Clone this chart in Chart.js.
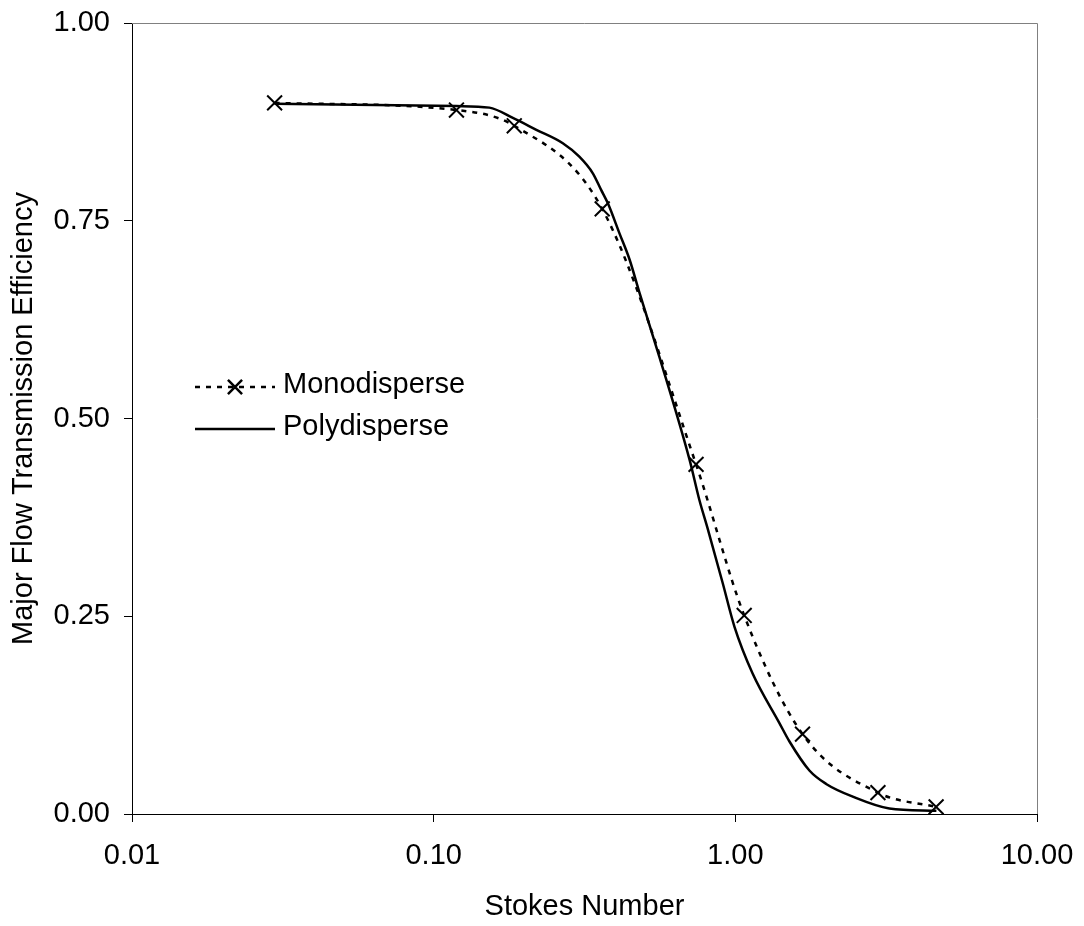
<!DOCTYPE html>
<html>
<head>
<meta charset="utf-8">
<title>Major Flow Transmission Efficiency</title>
<script src="https://cdn.jsdelivr.net/npm/chart.js@4.4.1/dist/chart.umd.min.js"></script>
<style>
    html, body { margin: 0; padding: 0; background: #fff; }
    #wrap { width: 1084px; height: 926px; }
</style>
</head>
<body>
<div id="wrap"><canvas id="transmissionChart" width="1084" height="926"></canvas></div>
<script>
// Monodisperse particles (points with x markers)
const monoStokes = [0.0297, 0.119, 0.185, 0.362, 0.741, 1.07, 1.67, 2.97, 4.63];
const monoEfficiency = [0.899, 0.890, 0.870, 0.765, 0.442, 0.251, 0.101, 0.027, 0.009];

// Polydisperse curve
const polyStokes = [0.0297, 0.119, 0.153, 0.183, 0.219, 0.268, 0.304, 0.337, 0.359, 0.378,
    0.413, 0.446, 0.481, 0.560, 0.705, 0.760, 0.808, 0.908, 0.993, 1.14,
    1.40, 1.51, 1.76, 2.00, 2.45, 3.24, 4.64];
const polyEfficiency = [0.898, 0.895, 0.893, 0.880, 0.865, 0.848, 0.831, 0.810, 0.789, 0.772,
    0.734, 0.701, 0.659, 0.578, 0.448, 0.397, 0.362, 0.292, 0.237, 0.178,
    0.115, 0.092, 0.055, 0.038, 0.022, 0.007, 0.004];

// Axis ticks
const stokesTicks = [0.01, 0.1, 1, 10];
const efficiencyTicks = [0, 0.25, 0.5, 0.75, 1];

const seriesNames = ['Monodisperse', 'Polydisperse'];

const FONT_FAMILY = '"Liberation Sans", Arial, Helvetica, sans-serif';
const baseFont = { family: FONT_FAMILY, size: 29 };
const monoDash = [5, 6];

function toPoints(xs, ys) {
    return xs.map((x, i) => ({ x: x, y: ys[i] }));
}

// Plot frame (top/right) and the in-plot legend
const frameAndLegend = {
    id: 'frameAndLegend',
    afterDraw(chart) {
        const { ctx, chartArea } = chart;
        ctx.save();

        // gray border on the top and right of the plot area
        ctx.strokeStyle = '#808080';
        ctx.lineWidth = 1;
        ctx.beginPath();
        ctx.moveTo(chartArea.left, chartArea.top + 0.5);
        ctx.lineTo(chartArea.right + 0.5, chartArea.top + 0.5);
        ctx.lineTo(chartArea.right + 0.5, chartArea.bottom);
        ctx.stroke();

        // legend
        const lineX0 = 195, lineX1 = 275, textX = 283;
        const rows = [387, 429];

        ctx.strokeStyle = '#000';
        ctx.lineWidth = 2.5;

        ctx.setLineDash(monoDash);
        ctx.beginPath();
        ctx.moveTo(lineX0, rows[0]);
        ctx.lineTo(lineX1, rows[0]);
        ctx.stroke();
        ctx.setLineDash([]);

        Chart.helpers.drawPoint(ctx, {
            pointStyle: 'crossRot', radius: 10, borderWidth: 2, rotation: 0
        }, (lineX0 + lineX1) / 2, rows[0]);

        ctx.beginPath();
        ctx.moveTo(lineX0, rows[1]);
        ctx.lineTo(lineX1, rows[1]);
        ctx.stroke();

        ctx.fillStyle = '#000';
        ctx.font = `29px ${FONT_FAMILY}`;
        ctx.textAlign = 'left';
        ctx.textBaseline = 'middle';
        seriesNames.forEach((name, i) => {
            ctx.fillText(name, textX, rows[i] - 2);
        });

        ctx.restore();
    }
};

const ctx = document.getElementById('transmissionChart').getContext('2d');
const transmissionChart = new Chart(ctx, {
    type: 'line',
    data: {
        datasets: [{
            label: seriesNames[0],
            data: toPoints(monoStokes, monoEfficiency),
            borderColor: '#000',
            borderWidth: 2.5,
            borderDash: monoDash,
            cubicInterpolationMode: 'monotone',
            pointStyle: 'crossRot',
            pointRadius: 10.5,
            pointBorderWidth: 2,
            pointBorderColor: '#000',
            pointBackgroundColor: '#000',
            fill: false
        }, {
            label: seriesNames[1],
            data: toPoints(polyStokes, polyEfficiency),
            borderColor: '#000',
            borderWidth: 2.5,
            cubicInterpolationMode: 'monotone',
            pointRadius: 0,
            fill: false
        }]
    },
    options: {
        responsive: false,
        animation: false,
        devicePixelRatio: 1,
        layout: {
            padding: { top: 23, right: 47, bottom: 0, left: 0 }
        },
        plugins: {
            legend: { display: false },
            tooltip: { enabled: false }
        },
        scales: {
            x: {
                type: 'logarithmic',
                min: 0.01,
                max: 10,
                afterBuildTicks: (scale) => {
                    scale.ticks = stokesTicks.map(v => ({ value: v }));
                },
                afterFit: (scale) => {
                    scale.height = 112;
                    // no extra room for the end labels, the layout padding handles it
                    scale.paddingLeft = 0;
                    scale.paddingRight = 0;
                },
                grid: {
                    drawOnChartArea: false,
                    drawTicks: true,
                    tickLength: 8,
                    tickWidth: 1,
                    color: '#000'
                },
                border: { color: '#000', width: 1 },
                ticks: {
                    autoSkip: false,
                    maxRotation: 0,
                    padding: 17,
                    color: '#000',
                    font: baseFont,
                    callback: (value) => Number(value).toFixed(2)
                },
                title: {
                    display: true,
                    text: 'Stokes Number',
                    color: '#000',
                    font: baseFont,
                    padding: { top: 0, bottom: 2 }
                }
            },
            y: {
                min: 0,
                max: 1,
                afterBuildTicks: (scale) => {
                    scale.ticks = efficiencyTicks.map(v => ({ value: v }));
                },
                afterFit: (scale) => {
                    scale.width = 132;
                    scale.paddingTop = 0;
                    scale.paddingBottom = 0;
                },
                grid: {
                    drawOnChartArea: false,
                    drawTicks: true,
                    tickLength: 8,
                    tickWidth: 1,
                    color: '#000'
                },
                border: { color: '#000', width: 1 },
                ticks: {
                    padding: 14,
                    color: '#000',
                    font: baseFont,
                    callback: (value) => Number(value).toFixed(2)
                },
                title: {
                    display: true,
                    text: 'Major Flow Transmission Efficiency',
                    color: '#000',
                    font: baseFont,
                    padding: { top: 7, bottom: 0 }
                }
            }
        }
    },
    plugins: [frameAndLegend]
});
</script>
</body>
</html>
